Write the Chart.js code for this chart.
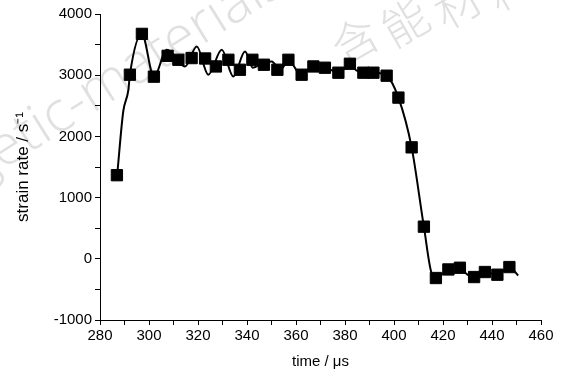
<!DOCTYPE html>
<html>
<head>
<meta charset="utf-8">
<script src="https://cdn.jsdelivr.net/npm/chart.js@4"></script>
<style>
  html, body { margin: 0; padding: 0; background: #fff; }
  #wrap { width: 562px; height: 373px; }
</style>
</head>
<body>
<div id="wrap"><canvas id="chartCanvas" width="562" height="373"></canvas></div>
<script>
// marker positions (time in us, strain rate in 1/s)
const markerTime = [286.9, 292.2, 297.1, 302.0, 307.6, 312.0, 317.4, 322.9, 327.3, 332.4, 337.1,
  342.2, 346.9, 352.4, 356.9, 362.3, 367.1, 371.8, 377.3, 382.0, 387.5, 391.6, 397.0, 401.8,
  407.2, 412.2, 417.1, 422.2, 426.9, 432.7, 437.1, 442.2, 447.1];
const markerRate = [1366, 3008, 3675, 2976, 3317, 3252, 3280, 3273, 3143, 3252, 3089,
  3252, 3171, 3089, 3252, 3008, 3143, 3122, 3041, 3187, 3041, 3041, 2992, 2634,
  1821, 525, -314, -174, -146, -298, -216, -260, -135];

const curveTime = [287.0, 289.5, 291.6, 292.2, 297.1, 302.0, 307.3, 314.7, 319.5, 324.2, 329.7,
  334.4, 339.2, 342.4, 346.5, 350.1, 353.5, 357.1, 362.0, 366.5, 372.0, 377.3, 382.0, 385.0,
  391.6, 397.0, 401.8, 407.2, 412.2, 415.5, 417.5, 422.2, 426.9, 430.0, 432.7, 437.1, 442.2,
  447.1, 450.7];
const curveRate = [1366, 2411, 2764, 3008, 3675, 2976, 3415, 3143, 3468, 3008, 3415,
  2980, 3387, 3122, 3200, 3224, 3089, 3236, 3008, 3130, 3120, 3041, 3170, 3070,
  3041, 2990, 2634, 1821, 525, -250, -300, -180, -150, -260, -300, -220, -260,
  -140, -272];

const xTicks = { min: 280, max: 460, step: 10, labelEvery: 20 };
const yTicks = { min: -1000, max: 4000, step: 500, labelEvery: 1000 };

const fontFamily = '"Liberation Sans", Arial, sans-serif';

const toXY = (xs, ys) => xs.map((x, i) => ({ x, y: ys[i] }));

// faint journal watermark behind the plot
const watermark = {
  id: 'watermark',
  beforeDraw(c) {
    const g = c.ctx;
    g.save();
    g.fillStyle = '#e0e0e0';
    g.font = '300 56px "Open Sans", "Liberation Sans", sans-serif';
    g.textBaseline = 'alphabetic';
    g.translate(2, 170);
    g.rotate(-32 * Math.PI / 180);
    const lead = g.measureText('energ').width;
    g.fillText('energetic-materials', -lead, 0);
    g.restore();

    g.save();
    g.fillStyle = '#e0e0e0';
    g.font = '300 46px "Noto Sans CJK SC", sans-serif';
    g.textAlign = 'center';
    g.textBaseline = 'middle';
    const cjk = [['\u542b', 355, 40], ['\u80fd', 405, 22], ['\u6750', 457, 4], ['\u6599', 509, -14]];
    cjk.forEach(([ch, x, y]) => {
      g.save();
      g.translate(x, y);
      g.rotate(-30 * Math.PI / 180);
      g.fillText(ch, 0, 0);
      g.restore();
    });
    g.restore();
  }
};

const ctx = document.getElementById('chartCanvas').getContext('2d');
const chart = new Chart(ctx, {
  type: 'scatter',
  data: {
    datasets: [
      {
        label: 'curve',
        data: toXY(curveTime, curveRate),
        showLine: true,
        borderColor: '#000',
        borderWidth: 2,
        pointRadius: 0,
        cubicInterpolationMode: 'monotone',
        fill: false
      },
      {
        label: 'points',
        data: toXY(markerTime, markerRate),
        showLine: false,
        pointStyle: 'rect',
        pointRadius: 8,
        borderWidth: 1,
        borderColor: '#000',
        backgroundColor: '#000'
      }
    ]
  },
  options: {
    responsive: false,
    animation: false,
    layout: { padding: { top: 14, right: 21, left: 0, bottom: 0 } },
    plugins: { legend: { display: false }, tooltip: { enabled: false } },
    scales: {
      x: {
        type: 'linear',
        min: xTicks.min, max: xTicks.max,
        afterFit: s => { s.height = 53; },
        grid: { drawOnChartArea: false, drawTicks: true, tickLength: 5, color: '#000' },
        border: { display: true, color: '#000', width: 1 },
        ticks: {
          stepSize: xTicks.step, color: '#000', padding: 2, maxRotation: 0, autoSkip: false,
          font: { family: fontFamily, size: 15 },
          callback: v => (v % xTicks.labelEvery === 0 ? v : '')
        },
        title: { display: true, text: 'time / \u03bcs', color: '#000',
          font: { family: fontFamily, size: 15 }, padding: { top: 2, bottom: 2 } }
      },
      y: {
        type: 'linear',
        min: yTicks.min, max: yTicks.max,
        afterFit: s => { s.width = 100; },
        grid: { drawOnChartArea: false, drawTicks: true, tickLength: 5, color: '#000' },
        border: { display: true, color: '#000', width: 1 },
        ticks: {
          stepSize: yTicks.step, color: '#000', padding: 3, autoSkip: false,
          font: { family: fontFamily, size: 15 },
          callback: v => (v % yTicks.labelEvery === 0 ? v : '')
        },
        title: { display: true, text: 'strain rate / s\u207b\u00b9', color: '#000',
          font: { family: fontFamily, size: 17 }, padding: { top: 13, bottom: 4 } }
      }
    }
  },
  plugins: [watermark]
});
</script>
</body>
</html>
